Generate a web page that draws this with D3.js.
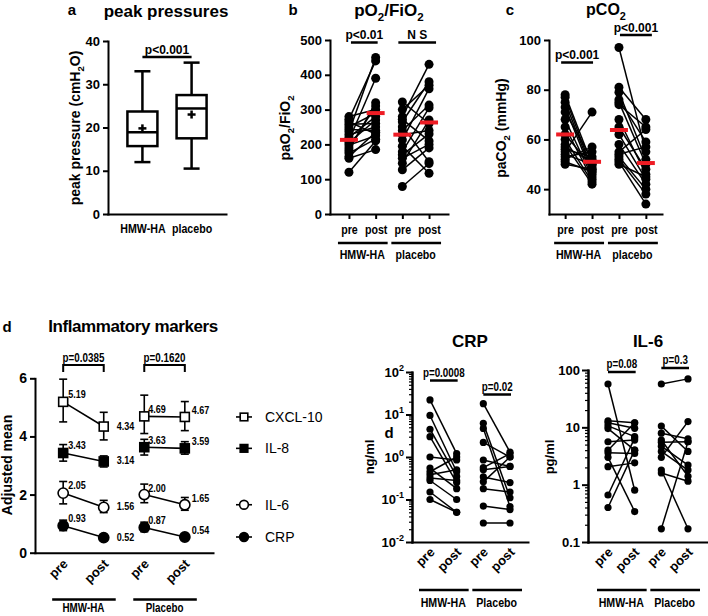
<!DOCTYPE html>
<html><head><meta charset="utf-8">
<script src="https://cdn.jsdelivr.net/npm/d3@7"></script>
<style>body{margin:0;background:#fff}</style>
</head><body>
<svg id="chart" width="708" height="616"></svg>
<script>
// ================= DATA =================
// Panel a – peak pressures (box plot)
const peakCategories = ["HMW-HA", "placebo"];
const peakTicks = [0, 10, 20, 30, 40];
const peakWhiskerLow = [12.0, 10.5];
const peakQ1 = [15.7, 17.5];
const peakMedian = [18.9, 24.4];
const peakQ3 = [23.7, 27.5];
const peakWhiskerHigh = [33.0, 35.0];
const peakMean = [19.8, 23.0];
const peakP = "p<0.001";

// shared paired categories
const groupsTop = ["HMW-HA", "placebo"];
const groupsBottom = ["HMW-HA", "Placebo"];
const timepoints = ["pre", "post"];

// Panel b – pO2/FiO2
const pfTicks = [0, 100, 200, 300, 400, 500];
const pfHmwPre  = [280, 272, 265, 258, 250, 243, 236, 228, 220, 212, 205, 198, 190, 182, 175, 165, 160, 120];
const pfHmwPost = [300, 440, 230, 260, 290, 240, 450, 250, 280, 390, 270, 225, 310, 320, 215, 235, 185, 210];
const pfPlaPre  = [322, 300, 280, 272, 265, 251, 240, 228, 213, 195, 179, 170, 160, 146, 127, 79];
const pfPlaPost = [260, 370, 430, 210, 380, 150, 313, 240, 360, 117, 305, 230, 200, 270, 190, 145];
const pfMedians = [213, 290, 228, 263];
const pfP = ["p<0.01", "N S"];

// Panel c – pCO2
const pcTicks = [40, 60, 80, 100];
const pcHmwPre  = [78, 77, 75, 73, 71, 68, 65, 62, 60, 58, 57, 56, 55, 54, 53, 52, 51, 50];
const pcHmwPost = [50, 48, 47, 46, 52, 45, 44, 49, 43, 42, 51, 53, 71, 50, 55, 57, 47, 48];
const pcPlaPre  = [97, 81, 79, 76, 75, 74, 68, 65, 62, 58, 55, 54, 53, 52, 51, 50];
const pcPlaPost = [55, 68, 52, 59, 50, 65, 46, 48, 44, 42, 64, 57, 40, 38, 34, 45];
const pcMedians = [62, 51, 63.8, 50.5];
const pcP = ["p<0.001", "p<0.001"];

// Panel d – inflammatory markers (adjusted means)
const markerNames = ["CXCL-10", "IL-8", "IL-6", "CRP"];
const dTicks = [0, 2, 4, 6];
const cxcl10Mean = [5.19, 4.34, 4.69, 4.67];
const cxcl10Low  = [4.50, 3.88, 4.10, 4.20];
const cxcl10High = [5.97, 4.83, 5.42, 5.20];
const il8Mean = [3.43, 3.14, 3.63, 3.59];
const il8Low  = [3.15, 2.95, 3.36, 3.39];
const il8High = [3.72, 3.33, 3.90, 3.82];
const il6Mean = [2.05, 1.56, 2.00, 1.65];
const il6Low  = [1.68, 1.38, 1.72, 1.46];
const il6High = [2.45, 1.80, 2.36, 1.90];
const crpMean = [0.93, 0.52, 0.87, 0.54];
const crpLow  = [0.76, 0.49, 0.72, 0.51];
const crpHigh = [1.12, 0.55, 1.05, 0.57];
const dP = ["p=0.0385", "p=0.1620"];

// CRP (ng/ml, log)
const crpTicks = [0.01, 0.1, 1, 10, 100];
const crpHmwPre  = [22, 9.5, 4.5, 3.0, 1.0, 0.55, 0.45, 0.38, 0.32, 0.28, 0.15, 0.10];
const crpHmwPost = [1.2, 0.45, 0.35, 0.25, 0.85, 0.18, 1.0, 0.5, 0.28, 0.1, 0.05, 0.05];
const crpPlaPre  = [18, 6.2, 4.7, 2.2, 0.85, 0.56, 0.5, 0.34, 0.26, 0.18, 0.07, 0.028];
const crpPlaPost = [1.3, 0.11, 0.068, 1.0, 0.6, 1.2, 0.6, 0.25, 1.0, 0.15, 0.058, 0.028];
const crpP = ["p=0.0008", "p=0.02"];

// IL-6 (pg/ml, log)
const il6Ticks = [0.1, 1, 10, 100];
const il6HmwPre  = [57, 13, 12, 10.6, 9.5, 5.6, 4.0, 3.6, 3.0, 2.06, 0.66, 0.40];
const il6HmwPost = [0.8, 12, 9.6, 6.9, 4.0, 6.0, 12, 3.5, 0.34, 2.4, 6.5, 4.0];
const il6PlaPre  = [57, 10.5, 7.9, 6.0, 5.5, 4.7, 3.8, 3.0, 1.8, 1.6, 0.17];
const il6PlaPost = [70, 3.8, 6.3, 1.4, 5.6, 2.2, 1.8, 12.6, 0.17, 1.15, 5.6];
const il6P = ["p=0.08", "p=0.3"];

// ================= DRAWING =================
const svg = d3.select("#chart");
const F = '"Liberation Sans", Arial, sans-serif';
const RED = "#ee1c24";
const CX = 0.82; // horizontal condensation for narrow labels

function styleAxis(g, fs, weight) {
  g.attr("font-family", null).attr("font-size", null);
  g.select(".domain").attr("stroke", "#000").attr("stroke-width", 2).attr("stroke-linecap", "square");
  g.selectAll(".tick line").attr("stroke", "#000").attr("stroke-width", 2);
  g.selectAll(".tick text").attr("fill", "#000").style("font-family", F)
    .style("font-weight", weight || "bold").style("font-size", fs + "px");
}
function txt(x, y, s, o = {}) {
  const t = svg.append("text").attr("x", x).attr("y", y).text(s)
    .style("font-family", F).style("font-weight", o.weight || "bold")
    .style("font-size", (o.size || 13) + "px").attr("text-anchor", o.anchor || "middle")
    .attr("fill", "#000");
  if (o.cond) t.attr("transform", `translate(${x},0) scale(${o.cond},1) translate(${-x},0)`);
  return t;
}
function rich(x, y, parts, o = {}) {
  const fs = o.size || 13;
  const t = svg.append("text").attr("x", x).attr("y", y)
    .style("font-family", F).style("font-weight", o.weight || "bold")
    .style("font-size", fs + "px").attr("text-anchor", o.anchor || "middle");
  if (o.rotate) t.attr("transform", `rotate(${o.rotate},${x},${y})`);
  let shift = 0;
  parts.forEach(([s, kind]) => {
    const target = kind === "sub" ? fs * 0.3 : kind === "sup" ? -fs * 0.45 : 0;
    t.append("tspan").attr("dy", target - shift).style("font-size", (kind ? fs * 0.68 : fs) + "px").text(s);
    shift = target;
  });
  return t;
}
function hline(x1, x2, y, w = 2.5) {
  svg.append("line").attr("x1", x1).attr("x2", x2).attr("y1", y).attr("y2", y)
    .attr("stroke", "#000").attr("stroke-width", w);
}
const keys = [];
groupsTop.forEach(g => timepoints.forEach(t => keys.push(g + "|" + t)));
const keyFmt = d => d.split("|")[1];

function pairedMarks(x, y, sets, r) {
  sets.forEach(([kPre, kPost, pre, post]) => {
    const x0 = x(kPre), x1 = x(kPost);
    const pairs = d3.zip(pre, post);
    svg.append("g").selectAll("line").data(pairs).join("line")
      .attr("x1", x0).attr("x2", x1).attr("y1", d => y(d[0])).attr("y2", d => y(d[1]))
      .attr("stroke", "#000").attr("stroke-width", 1.5);
    const pts = pairs.flatMap(d => [[x0, d[0]], [x1, d[1]]]);
    svg.append("g").selectAll("circle").data(pts).join("circle")
      .attr("cx", d => d[0]).attr("cy", d => y(d[1])).attr("r", r).attr("fill", "#000");
  });
}
function groupUnder(x, yLine, yText, labels, fs) {
  labels.forEach((lab, i) => {
    const a = x(keys[i * 2]), b = x(keys[i * 2 + 1]);
    hline(a - 11, b + 12, yLine, 2.5);
    txt((a + b) / 2, yText, lab, { size: fs, cond: CX });
  });
}
function pBar(x1, x2, y, label, fs, cond) {
  hline(x1, x2, y, 2.5);
  txt((x1 + x2) / 2, y - 3.5, label, { size: fs || 12, cond: cond });
}

// ---------- Panel a ----------
{
  const y = d3.scaleLinear().domain([0, 40]).range([214, 41]);
  const x = d3.scalePoint().domain(peakCategories).range([108, 226]).padding(0.7);
  styleAxis(svg.append("g").attr("transform", "translate(108,0)")
    .call(d3.axisLeft(y).tickValues(peakTicks).tickSize(5).tickPadding(3).tickSizeOuter(0)), 13);
  const gx = svg.append("g").attr("transform", "translate(0,214)")
    .call(d3.axisBottom(x).tickSize(0).tickPadding(10).tickSizeOuter(0));
  styleAxis(gx, 13);
  gx.selectAll(".tick text").attr("transform", `scale(${CX},1)`);
  const bw = 30, cw = 16;
  peakCategories.forEach((c, i) => {
    const cx = x(c);
    const g = svg.append("g").attr("stroke", "#000").attr("stroke-width", 2.5).attr("fill", "none");
    g.append("line").attr("x1", cx).attr("x2", cx).attr("y1", y(peakWhiskerHigh[i])).attr("y2", y(peakQ3[i]));
    g.append("line").attr("x1", cx).attr("x2", cx).attr("y1", y(peakQ1[i])).attr("y2", y(peakWhiskerLow[i]));
    g.append("line").attr("x1", cx - cw / 2).attr("x2", cx + cw / 2).attr("y1", y(peakWhiskerHigh[i])).attr("y2", y(peakWhiskerHigh[i]));
    g.append("line").attr("x1", cx - cw / 2).attr("x2", cx + cw / 2).attr("y1", y(peakWhiskerLow[i])).attr("y2", y(peakWhiskerLow[i]));
    g.append("rect").attr("x", cx - bw / 2).attr("width", bw).attr("y", y(peakQ3[i])).attr("height", y(peakQ1[i]) - y(peakQ3[i])).attr("fill", "#fff");
    g.append("line").attr("x1", cx - bw / 2).attr("x2", cx + bw / 2).attr("y1", y(peakMedian[i])).attr("y2", y(peakMedian[i]));
    g.append("line").attr("x1", cx - 4).attr("x2", cx + 4).attr("y1", y(peakMean[i])).attr("y2", y(peakMean[i]));
    g.append("line").attr("x1", cx).attr("x2", cx).attr("y1", y(peakMean[i]) - 4).attr("y2", y(peakMean[i]) + 4);
  });
  pBar(x(peakCategories[0]), x(peakCategories[1]), y(36.3), peakP, 12);
  txt(72, 15, "a", { size: 15 });
  txt(166, 17, "peak pressures", { size: 17 });
  rich(80, 128, [["peak pressure (cmH"], ["2", "sub"], ["O)"]], { size: 14, rotate: -90 });
}

// ---------- Panel b ----------
{
  const y = d3.scaleLinear().domain([0, 500]).range([214, 40]);
  const x = d3.scalePoint().domain(keys).range([330, 448]).padding(0.71);
  styleAxis(svg.append("g").attr("transform", "translate(330,0)")
    .call(d3.axisLeft(y).tickValues(pfTicks).tickSize(5).tickPadding(3).tickSizeOuter(0)), 13);
  const gx = svg.append("g").attr("transform", "translate(0,214)")
    .call(d3.axisBottom(x).tickFormat(keyFmt).tickSize(5).tickPadding(6).tickSizeOuter(0));
  styleAxis(gx, 13);
  gx.selectAll(".tick text").attr("transform", `scale(${CX},1)`);
  pairedMarks(x, y, [[keys[0], keys[1], pfHmwPre, pfHmwPost], [keys[2], keys[3], pfPlaPre, pfPlaPost]], 4.5);
  svg.append("g").selectAll("line").data(pfMedians).join("line")
    .attr("x1", (d, i) => x(keys[i]) - 9).attr("x2", (d, i) => x(keys[i]) + 9)
    .attr("y1", d => y(d)).attr("y2", d => y(d)).attr("stroke", RED).attr("stroke-width", 4);
  groupUnder(x, 243, 259, groupsTop, 13);
  pBar(x(keys[0]) + 2, x(keys[1]) + 2, 42.5, pfP[0], 12);
  pBar(x(keys[2]) - 4, x(keys[3]) + 7, 42.5, pfP[1], 12);
  txt(293, 15, "b", { size: 15 });
  rich(389, 16, [["pO"], ["2", "sub"], ["/FiO"], ["2", "sub"]], { size: 17 });
  rich(290, 128, [["paO"], ["2", "sub"], ["/FiO"], ["2", "sub"]], { size: 14, rotate: -90 });
}

// ---------- Panel c ----------
{
  const y = d3.scaleLinear().domain([30, 100]).range([214, 40]);
  const x = d3.scalePoint().domain(keys).range([549, 662]).padding(0.6);
  styleAxis(svg.append("g").attr("transform", "translate(549,0)")
    .call(d3.axisLeft(y).tickValues(pcTicks).tickSize(5).tickPadding(3).tickSizeOuter(0)), 13);
  const gx = svg.append("g").attr("transform", "translate(0,214)")
    .call(d3.axisBottom(x).tickFormat(keyFmt).tickSize(5).tickPadding(6).tickSizeOuter(0));
  styleAxis(gx, 13);
  gx.selectAll(".tick text").attr("transform", `scale(${CX},1)`);
  pairedMarks(x, y, [[keys[0], keys[1], pcHmwPre, pcHmwPost], [keys[2], keys[3], pcPlaPre, pcPlaPost]], 4.5);
  svg.append("g").selectAll("line").data(pcMedians).join("line")
    .attr("x1", (d, i) => x(keys[i]) - 9).attr("x2", (d, i) => x(keys[i]) + 9)
    .attr("y1", d => y(d)).attr("y2", d => y(d)).attr("stroke", RED).attr("stroke-width", 4);
  groupUnder(x, 243, 259, groupsTop, 13);
  pBar(x(keys[0]) - 4, x(keys[1]) + 1, 62.5, pcP[0], 12);
  pBar(x(keys[2]) + 1, x(keys[3]) + 6, 35, pcP[1], 12);
  txt(510, 15, "c", { size: 15 });
  rich(606, 15, [["pCO"], ["2", "sub"]], { size: 16 });
  rich(506, 128, [["paCO"], ["2", "sub"], [" (mmHg)"]], { size: 14, rotate: -90 });
}

// ---------- Panel d (inflammatory markers) ----------
{
  const y = d3.scaleLinear().domain([0, 6]).range([552.7, 378.3]);
  const x = d3.scalePoint().domain(keys).range([35, 213]).padding(0.695);
  styleAxis(svg.append("g").attr("transform", "translate(35,0)")
    .call(d3.axisLeft(y).tickValues(dTicks).tickFormat(d3.format("d")).tickSize(5).tickPadding(3).tickSizeOuter(0)), 14);
  const gx = svg.append("g").attr("transform", "translate(0,552.7)")
    .call(d3.axisBottom(x).tickFormat(keyFmt).tickSize(0).tickSizeOuter(0));
  styleAxis(gx, 13);
  gx.selectAll(".tick text").attr("text-anchor", "end").attr("y", 0).attr("dy", 0)
    .attr("transform", "translate(5,12) rotate(-45)");
  const series = [
    { name: markerNames[0], m: cxcl10Mean, lo: cxcl10Low, hi: cxcl10High, shape: "square", fill: "#fff" },
    { name: markerNames[1], m: il8Mean, lo: il8Low, hi: il8High, shape: "square", fill: "#000" },
    { name: markerNames[2], m: il6Mean, lo: il6Low, hi: il6High, shape: "circle", fill: "#fff" },
    { name: markerNames[3], m: crpMean, lo: crpLow, hi: crpHigh, shape: "circle", fill: "#000" }
  ];
  const labDx = [5, 13, 4, 7], labDy = [-4, 3, -3, -3];
  function marker(g, cx, cy, s, size) {
    if (s.shape === "square")
      g.append("rect").attr("x", cx - size).attr("y", cy - size).attr("width", size * 2).attr("height", size * 2)
        .attr("fill", s.fill).attr("stroke", "#000").attr("stroke-width", 1.6);
    else
      g.append("circle").attr("cx", cx).attr("cy", cy).attr("r", size + 0.6).attr("fill", s.fill)
        .attr("stroke", "#000").attr("stroke-width", 1.6);
  }
  series.forEach(s => {
    const g = svg.append("g");
    [[0, 1], [2, 3]].forEach(([a, b]) => {
      g.append("line").attr("x1", x(keys[a])).attr("x2", x(keys[b]))
        .attr("y1", y(s.m[a])).attr("y2", y(s.m[b])).attr("stroke", "#000").attr("stroke-width", 1.6);
    });
    keys.forEach((k, i) => {
      const cx = x(k);
      g.append("line").attr("x1", cx).attr("x2", cx).attr("y1", y(s.lo[i])).attr("y2", y(s.hi[i]))
        .attr("stroke", "#000").attr("stroke-width", 1.6);
      [s.lo[i], s.hi[i]].forEach(v => g.append("line").attr("x1", cx - 4).attr("x2", cx + 4)
        .attr("y1", y(v)).attr("y2", y(v)).attr("stroke", "#000").attr("stroke-width", 1.6));
      marker(g, cx, y(s.m[i]), s, 4.5);
      txt(cx + labDx[i], y(s.m[i]) + labDy[i], s.m[i].toFixed(2), { size: 11, anchor: "start", cond: CX });
    });
    const ly = y(s.m[3]);
    g.append("line").attr("x1", 236).attr("x2", 252).attr("y1", ly).attr("y2", ly).attr("stroke", "#000").attr("stroke-width", 1.6);
    marker(g, 244, ly, s, 3.8);
    txt(265, ly + 5, s.name, { size: 14, weight: "normal", anchor: "start" });
  });
  [[0, 1], [2, 3]].forEach(([a, b], i) => {
    const x1 = x(keys[a]), x2 = x(keys[b]);
    svg.append("path").attr("d", `M${x1},372V365H${x2}V372`).attr("fill", "none").attr("stroke", "#000").attr("stroke-width", 2);
    txt((x1 + x2) / 2, 362, dP[i], { size: 12, cond: CX });
  });
  groupUnder(x, 599.5, 612.5, groupsBottom, 12);
  txt(7, 332, "d", { size: 15 });
  txt(133, 332, "Inflammatory markers", { size: 17 }).attr("letter-spacing", -0.4);
  txt(12, 465, "Adjusted mean", { size: 14 }).attr("transform", "rotate(-90,12,465)");
}

// ---------- log paired panels ----------
function logPanel(cfg) {
  const y = d3.scaleLog().domain(cfg.domain).range(cfg.yRange);
  const x = d3.scalePoint().domain(keys).range(cfg.xRange).padding(cfg.pad);
  const ax = cfg.xRange[0];
  const minors = y.ticks().filter(v => !cfg.ticks.some(t => Math.abs(Math.log10(v) - Math.log10(t)) < 1e-6));
  const gm = svg.append("g").attr("transform", `translate(${ax},0)`)
    .call(d3.axisLeft(y).tickValues(minors).tickFormat("").tickSize(3).tickSizeOuter(0));
  styleAxis(gm, 13);
  gm.selectAll(".tick line").attr("stroke-width", 1.2);
  const gy = svg.append("g").attr("transform", `translate(${ax},0)`)
    .call(d3.axisLeft(y).tickValues(cfg.ticks).tickFormat(cfg.fmt).tickSize(6).tickPadding(2).tickSizeOuter(0));
  styleAxis(gy, 13);
  if (cfg.sup) gy.selectAll(".tick text").each(function (d) {
    const k = Math.round(Math.log10(d));
    const t = d3.select(this).text("10");
    t.append("tspan").attr("dy", -6).style("font-size", "9px").text(k);
  });
  const gx = svg.append("g").attr("transform", `translate(0,${cfg.yRange[0]})`)
    .call(d3.axisBottom(x).tickFormat(keyFmt).tickSize(0).tickSizeOuter(0));
  styleAxis(gx, 13);
  gx.selectAll(".tick text").attr("text-anchor", "end").attr("y", 0).attr("dy", 0)
    .attr("transform", "translate(5,11) rotate(-45)");
  pairedMarks(x, y, [[keys[0], keys[1], cfg.hPre, cfg.hPost], [keys[2], keys[3], cfg.pPre, cfg.pPost]], 3.6);
  cfg.p.forEach((lab, i) => {
    const x1 = x(keys[i * 2]), x2 = x(keys[i * 2 + 1]);
    pBar(x1, x2 + 1, cfg.pY[i], lab, 12, CX);
  });
  groupUnder(x, 590, 607, groupsBottom, 13);
  txt((cfg.xRange[0] + cfg.xRange[1]) / 2, 347, cfg.title, { size: 17 });
  txt(cfg.ylX, 457, cfg.ylab, { size: 13 }).attr("transform", `rotate(-90,${cfg.ylX},457)`);
}
logPanel({
  domain: [0.01, 100], yRange: [542, 372], xRange: [412, 528], pad: 0.675, ticks: crpTicks, sup: true,
  fmt: d => String(d), hPre: crpHmwPre, hPost: crpHmwPost, pPre: crpPlaPre, pPost: crpPlaPost,
  p: crpP, pY: [380.5, 394.5], title: "CRP", ylab: "ng/ml", ylX: 374
});
logPanel({
  domain: [0.1, 100], yRange: [542, 370], xRange: [588, 708], pad: 0.75, ticks: il6Ticks, sup: false,
  fmt: d => String(d), hPre: il6HmwPre, hPost: il6HmwPost, pPre: il6PlaPre, pPost: il6PlaPost,
  p: il6P, pY: [372, 368], title: "IL-6", ylab: "pg/ml", ylX: 554
});
txt(389, 438, "d", { size: 15 });
</script>
</body></html>
